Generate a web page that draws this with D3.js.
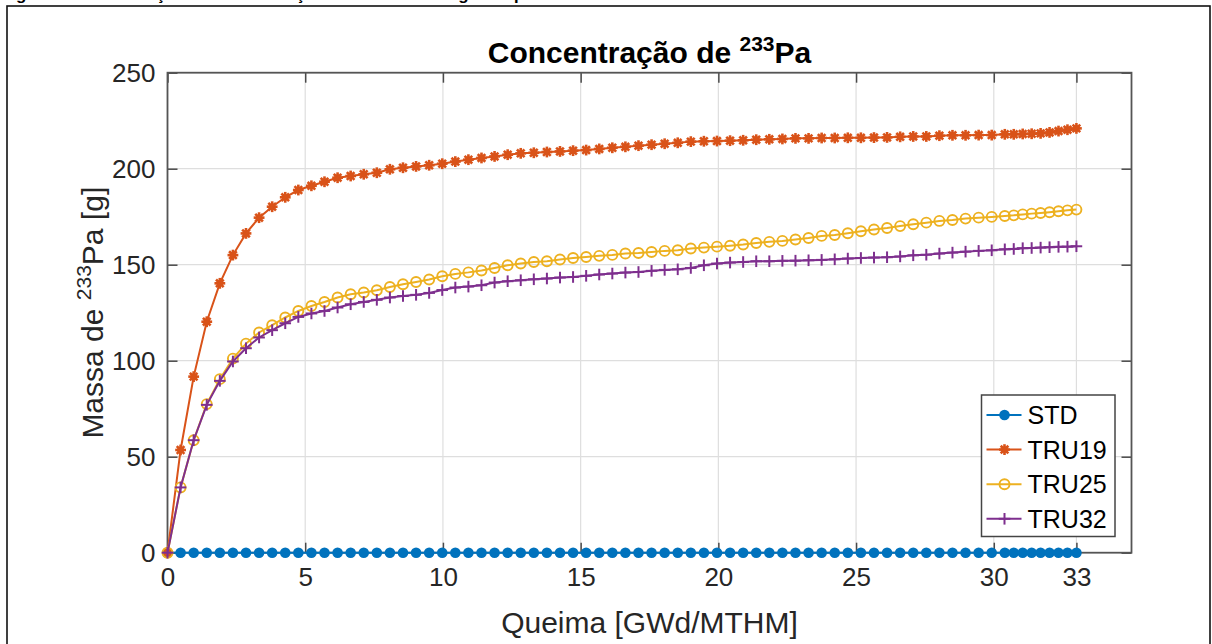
<!DOCTYPE html>
<html>
<head>
<meta charset="utf-8">
<script src="https://cdn.jsdelivr.net/npm/d3@7"></script>
<style>
  html, body { margin: 0; padding: 0; background: #fff; }
  svg { display: block; }
  text { font-family: "Liberation Sans", Arial, Helvetica, sans-serif; }
</style>
</head>
<body>
<svg id="chart" width="1212" height="644"></svg>
<script>
// Burnup steps [GWd/MTHM]
const burnup = [
  0, 0.475, 0.95, 1.425, 1.9, 2.375, 2.85, 3.325, 3.8, 4.275,
  4.75, 5.225, 5.7, 6.175, 6.65, 7.125, 7.6, 8.075, 8.55, 9.025,
  9.5, 9.975, 10.45, 10.925, 11.4, 11.875, 12.35, 12.825, 13.3, 13.775,
  14.25, 14.725, 15.2, 15.675, 16.15, 16.625, 17.1, 17.575, 18.05, 18.525,
  19.0, 19.475, 19.95, 20.425, 20.9, 21.375, 21.85, 22.325, 22.8, 23.275,
  23.75, 24.225, 24.7, 25.175, 25.65, 26.125, 26.6, 27.075, 27.55, 28.025,
  28.5, 28.975, 29.45, 29.925, 30.4, 30.725, 31.05, 31.375, 31.7, 32.025,
  32.35, 32.675, 33.0
];

// Pa-233 mass [g] per fuel
const massSTD = [
  0, 0, 0, 0, 0, 0, 0, 0, 0, 0,
  0, 0, 0, 0, 0, 0, 0, 0, 0, 0,
  0, 0, 0, 0, 0, 0, 0, 0, 0, 0,
  0, 0, 0, 0, 0, 0, 0, 0, 0, 0,
  0, 0, 0, 0, 0, 0, 0, 0, 0, 0,
  0, 0, 0, 0, 0, 0, 0, 0, 0, 0,
  0, 0, 0, 0, 0, 0, 0, 0, 0, 0,
  0, 0, 0
];
const massTRU19 = [
  0, 53.5, 91.7, 120.3, 140.3, 155.0, 166.3, 174.5, 180.2, 185.1,
  188.9, 191.1, 193.2, 195.3, 196.2, 197.1, 197.9, 199.7, 200.5, 201.2,
  201.8, 202.6, 203.7, 204.7, 205.6, 206.4, 207.3, 208.0, 208.3, 208.7,
  209.0, 209.4, 209.7, 210.3, 210.9, 211.4, 212.0, 212.5, 213.0, 213.5,
  214.1, 214.3, 214.4, 214.6, 214.8, 215.1, 215.3, 215.5, 215.8, 215.8,
  216.0, 216.0, 216.1, 216.1, 216.2, 216.3, 216.6, 216.8, 216.8, 217.2,
  217.4, 217.4, 217.5, 217.5, 217.9, 217.9, 218.1, 218.2, 218.4, 218.9,
  219.6, 220.3, 221.0
];
const massTRU25 = [
  0, 34.0, 58.6, 77.4, 90.4, 101.1, 108.9, 114.7, 118.5, 122.5,
  125.9, 128.5, 130.6, 132.9, 134.6, 135.5, 136.7, 138.4, 139.8, 141.0,
  142.3, 144.0, 145.2, 146.0, 147.0, 148.3, 149.7, 150.6, 151.4, 151.8,
  152.7, 153.5, 154.0, 154.6, 155.1, 155.8, 156.1, 156.6, 157.2, 157.5,
  158.4, 158.9, 159.4, 159.9, 160.5, 161.3, 161.9, 162.4, 163.1, 163.9,
  165.0, 165.5, 166.4, 167.4, 168.3, 169.1, 170.1, 171.1, 171.9, 172.8,
  173.3, 174.0, 174.5, 174.9, 175.4, 175.7, 176.2, 176.6, 176.9, 177.3,
  177.8, 178.3, 178.7
];
const massTRU32 = [
  0, 34.0, 58.6, 77.0, 89.5, 99.6, 106.5, 112.1, 115.9, 119.5,
  122.8, 124.6, 125.9, 127.7, 129.4, 130.6, 131.7, 132.9, 133.7, 134.3,
  135.3, 136.8, 138.1, 138.6, 139.3, 140.7, 141.4, 141.9, 142.4, 142.8,
  143.3, 143.6, 144.2, 144.9, 145.4, 145.9, 146.2, 146.8, 147.3, 147.6,
  148.3, 149.7, 150.6, 151.1, 151.4, 151.8, 151.8, 152.0, 152.1, 152.3,
  152.5, 152.8, 153.2, 153.5, 153.7, 153.9, 154.3, 154.9, 155.2, 155.8,
  156.3, 156.8, 157.2, 157.5, 158.0, 158.2, 158.6, 158.7, 158.9, 159.1,
  159.3, 159.4, 159.6
];

const seriesNames = ["STD", "TRU19", "TRU25", "TRU32"];
const seriesColors = ["#0072BD", "#D95319", "#EDB120", "#7E2F8E"];
const seriesMarkers = ["dot", "asterisk", "ring", "plus"];
const seriesValues = [massSTD, massTRU19, massTRU25, massTRU32];

const xTicks = [0, 5, 10, 15, 20, 25, 30, 33];
const yTicks = [0, 50, 100, 150, 200, 250];
const xDomain = [0, 35];
const yDomain = [0, 250];

const svg = d3.select("#chart");
const plot = { left: 167.5, right: 1131.5, top: 72.7, bottom: 552.7 };
const axisColor = "#262626";

// caption line of the page, running above the frame
svg.append("text")
  .attr("x", 1).attr("y", -0.5)
  .attr("font-size", 17).attr("font-weight", "bold").attr("fill", "#000")
  .text("Figura 4.27 – Evolução da concentração de 233Pa ao longo da queima nos combustíveis");

// figure frame
svg.append("rect")
  .attr("x", 7).attr("y", 6).attr("width", 1203).attr("height", 660)
  .attr("fill", "#fff").attr("stroke", "#111").attr("stroke-width", 1.6);

const x = d3.scaleLinear().domain(xDomain).range([plot.left, plot.right]);
const y = d3.scaleLinear().domain(yDomain).range([plot.bottom, plot.top]);

const g = svg.append("g");

// grid
g.append("g").selectAll("line").data(xTicks).join("line")
  .attr("x1", d => x(d)).attr("x2", d => x(d))
  .attr("y1", plot.top).attr("y2", plot.bottom)
  .attr("stroke", "#dedede").attr("stroke-width", 1.2);
g.append("g").selectAll("line").data(yTicks).join("line")
  .attr("y1", d => y(d)).attr("y2", d => y(d))
  .attr("x1", plot.left).attr("x2", plot.right)
  .attr("stroke", "#dedede").attr("stroke-width", 1.2);

// axes with inward ticks
function styleAxis(sel) {
  sel.select(".domain").remove();
  sel.selectAll(".tick line").attr("stroke", "#4a4a4a").attr("stroke-width", 1.5);
  sel.selectAll(".tick text").attr("fill", axisColor).attr("font-size", 26)
    .attr("font-family", "'Liberation Sans', Arial, sans-serif");
}
g.append("g").attr("transform", `translate(0,${plot.bottom})`)
  .call(d3.axisBottom(x).tickValues(xTicks).tickFormat(d3.format("d")).tickSize(-10).tickPadding(10))
  .call(styleAxis)
  .selectAll(".tick text").attr("dy", "0.9em");
g.append("g").attr("transform", `translate(0,${plot.top})`)
  .call(d3.axisTop(x).tickValues(xTicks).tickFormat("").tickSize(-10))
  .call(styleAxis);
g.append("g").attr("transform", `translate(${plot.left},0)`)
  .call(d3.axisLeft(y).tickValues(yTicks).tickFormat(d3.format("d")).tickSize(-10).tickPadding(12))
  .call(styleAxis);
g.append("g").attr("transform", `translate(${plot.right},0)`)
  .call(d3.axisRight(y).tickValues(yTicks).tickFormat("").tickSize(-10))
  .call(styleAxis);

// box
g.append("rect")
  .attr("x", plot.left).attr("y", plot.top)
  .attr("width", plot.right - plot.left).attr("height", plot.bottom - plot.top)
  .attr("fill", "none").attr("stroke", "#555").attr("stroke-width", 1.8);

// marker drawing
function drawMarker(sel, kind, color) {
  if (kind === "dot") {
    sel.append("circle").attr("r", 5.3).attr("fill", color);
  } else if (kind === "asterisk") {
    sel.append("circle").attr("r", 3.4).attr("fill", color);
    const r = 5.4;
    [0, 45, 90, 135].forEach(a => {
      const t = a * Math.PI / 180;
      sel.append("line")
        .attr("x1", -r * Math.cos(t)).attr("y1", -r * Math.sin(t))
        .attr("x2", r * Math.cos(t)).attr("y2", r * Math.sin(t))
        .attr("stroke", color).attr("stroke-width", 2.6);
    });
  } else if (kind === "ring") {
    sel.append("circle").attr("r", 5).attr("fill", "none")
      .attr("stroke", color).attr("stroke-width", 1.9);
  } else if (kind === "plus") {
    const r = 5.8;
    sel.append("line").attr("x1", -r).attr("x2", r).attr("y1", 0).attr("y2", 0)
      .attr("stroke", color).attr("stroke-width", 2);
    sel.append("line").attr("y1", -r).attr("y2", r).attr("x1", 0).attr("x2", 0)
      .attr("stroke", color).attr("stroke-width", 2);
  }
}

const line = d3.line().x(d => x(d[0])).y(d => y(d[1]));

seriesNames.forEach((name, k) => {
  const pts = burnup.map((b, i) => [b, seriesValues[k][i]]);
  const sg = g.append("g").attr("class", "series-" + name);
  sg.append("path").datum(pts).attr("d", line)
    .attr("fill", "none").attr("stroke", seriesColors[k]).attr("stroke-width", 2);
  sg.selectAll("g.m").data(pts).join("g").attr("class", "m")
    .attr("transform", d => `translate(${x(d[0])},${y(d[1])})`)
    .each(function () { drawMarker(d3.select(this), seriesMarkers[k], seriesColors[k]); });
});

// legend
const leg = svg.append("g").attr("transform", "translate(981.5,395)");
leg.append("rect").attr("width", 133.5).attr("height", 141.5)
  .attr("fill", "#fff").attr("stroke", "#444").attr("stroke-width", 1.5);
seriesNames.forEach((name, k) => {
  const cy = 20 + k * 34.6;
  const row = leg.append("g").attr("transform", `translate(0,${cy})`);
  row.append("line").attr("x1", 5).attr("x2", 40).attr("y1", 0).attr("y2", 0)
    .attr("stroke", seriesColors[k]).attr("stroke-width", 2);
  drawMarker(row.append("g").attr("transform", "translate(23,0)"), seriesMarkers[k], seriesColors[k]);
  row.append("text").attr("x", 46).attr("y", 0).attr("dy", "0.36em")
    .attr("font-size", 25).attr("fill", "#000").text(name);
});

// title
const title = svg.append("text")
  .attr("x", (plot.left + plot.right) / 2).attr("y", 63)
  .attr("text-anchor", "middle").attr("font-size", 30).attr("font-weight", "bold").attr("fill", "#000");
title.append("tspan").text("Concentração de ");
title.append("tspan").attr("font-size", 21).attr("dy", -12).text("233");
title.append("tspan").attr("dy", 12).text("Pa");

// axis labels
svg.append("text")
  .attr("x", (plot.left + plot.right) / 2).attr("y", 633)
  .attr("text-anchor", "middle").attr("font-size", 30).attr("fill", axisColor)
  .text("Queima [GWd/MTHM]");

const yl = svg.append("text")
  .attr("transform", `translate(103,${(plot.top + plot.bottom) / 2}) rotate(-90)`)
  .attr("text-anchor", "middle").attr("font-size", 30).attr("fill", axisColor);
yl.append("tspan").text("Massa de ");
yl.append("tspan").attr("font-size", 21).attr("dy", -12).text("233");
yl.append("tspan").attr("dy", 12).text("Pa [g]");
</script>
</body>
</html>
